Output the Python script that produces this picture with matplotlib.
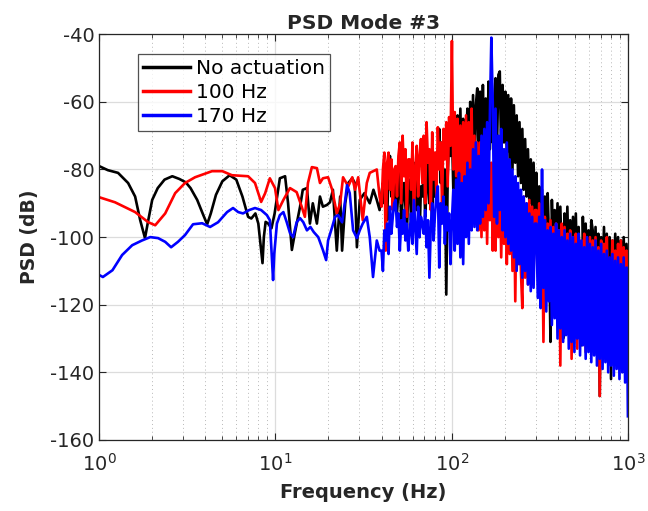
import numpy as np
import matplotlib
matplotlib.use("Agg")
import matplotlib.pyplot as plt
from matplotlib.ticker import LogLocator, NullFormatter

plt.rcParams["axes.unicode_minus"] = False

# --- data (frequency in Hz, PSD in dB) ---
# smooth low-frequency part, explicit points
black_f_low = [1.0, 1.12, 1.28, 1.46, 1.6, 1.71, 1.82, 1.9, 2.0, 2.15, 2.35, 2.6, 2.85, 3.1, 3.3,
               3.6, 3.9, 4.1, 4.3, 4.6, 5.0, 5.5, 6.0, 6.5, 7.0, 7.3, 7.7, 8.0, 8.3, 8.45, 8.6,
               8.8, 9.1, 9.5, 9.9, 10.2, 10.6, 11.35, 11.8, 12.4, 12.9, 13.8, 14.3, 15.1, 15.7,
               16.3, 17.2, 17.9, 18.6, 19.6, 20.4, 21.2, 22.3, 23.3, 23.9, 24.9, 25.9, 27.3,
               28.2, 29.0, 30.1, 32.0, 34.3, 36.0, 37.6, 39.0]
black_db_low = [-79, -80.2, -81, -84, -88, -95, -100.3, -95, -89, -85.5, -83, -82, -82.8, -83.8, -85.5,
                -89, -93.5, -96.2, -93, -87.5, -83.5, -81.7, -83, -88, -94, -94.5, -93, -96, -104, -107.7, -100,
                -95.5, -96, -97.4, -93, -88.5, -82.6, -82, -90, -103.8, -98.8, -91, -86, -85.5, -96,
                -90, -96, -88, -91, -90.5, -89.7, -86, -104, -88, -104, -90, -84, -82.6,
                -84, -103, -89, -87, -90, -86, -89, -92]

red_f_low = [1.0, 1.23, 1.6, 1.9, 2.08, 2.37, 2.7, 3.07, 3.5, 4.37, 5.0, 5.67, 7.0, 7.66, 8.3,
             8.75, 9.3, 9.95, 10.4, 11.1, 12.1, 13.2, 14.1, 14.7, 15.3, 16.1, 17.2, 17.9, 18.6,
             19.9, 21.0, 22.3, 23.3, 24.2, 25.9, 27.3, 28.3, 29.5, 31.3, 33.0, 34.3, 37.6, 39.0]
red_db_low = [-88.2, -89.7, -92.6, -95.6, -96.5, -93, -87, -84, -82.3, -80.5, -80.5, -81.7, -82, -84, -89.6,
              -87, -82.6, -85.5, -92, -89, -85.5, -86.7, -91, -94, -84, -79.3, -79.6, -84, -82.6,
              -82.3, -86, -93, -90, -82.3, -85, -82.3, -86, -82.3, -95, -84, -81, -80, -88]

blue_f_low = [1.0, 1.05, 1.19, 1.35, 1.54, 1.75, 1.95, 2.16, 2.37, 2.56, 2.8, 3.07, 3.41, 3.84, 4.26,
              4.73, 5.32, 5.75, 6.15, 6.55, 7.1, 7.66, 8.3, 8.95, 9.3, 9.5, 9.7, 9.85, 10.2, 10.6,
              11.1, 11.6, 12.1, 12.6, 13.2, 13.8, 14.4, 15.1, 15.8, 16.5, 17.5, 18.6, 19.4, 19.9,
              21.0, 21.8, 22.7, 23.9, 24.9, 25.5, 26.4, 27.6, 29.0, 30.1, 31.3, 33.0, 34.3, 35.8,
              37.6, 39.0]
blue_db_low = [-111.2, -111.8, -109.8, -105.3, -102.4, -101, -100, -100.3, -101.4, -103, -101.4, -99.4, -96.2, -95.9, -97,
               -95.6, -92.6, -91.4, -92.6, -93, -92, -91.4, -92, -93.5, -95, -104, -112.7, -105, -96, -93.5,
               -92.6, -95.6, -98.8, -100, -95.6, -94.4, -95.6, -98, -97, -98.5, -100, -103.8, -106.8, -101,
               -97, -94, -93.5, -95.6, -89, -84.6, -87, -98, -100.3, -98, -96, -94, -100, -111.8,
               -101, -104]

# noisy part, 40 Hz .. 1000 Hz, one value per log-spaced bin
black_db_high = [
    -87, -84, -90, -82, -95, -80, -76, -88, -83, -92,
    -81, -93, -86, -79, -97, -88, -84, -91, -99, -86,
    -83, -95, -80, -89, -78, -92, -84, -100, -85, -88,
    -80, -94, -86, -77, -90, -83, -97, -79, -88, -75,
    -78, -68, -84, -72, -90, -80, -117, -82, -70, -76,
    -68, -86, -66, -88, -64, -84, -62, -83, -65, -80,
    -72, -62, -84, -60, -80, -58, -82, -61, -56, -78,
    -57, -80, -55, -76, -59, -77, -54, -74, -56, -72,
    -60, -53, -74, -52, -51, -76, -55, -72, -57, -75,
    -58, -77, -59, -80, -61, -78, -64, -82, -66, -84,
    -68, -86, -71, -88, -74, -90, -77, -92, -78, -94,
    -81, -98, -85, -100, -86, -102, -88, -99, -87, -101,
    -131, -89, -104, -92, -106, -90, -105, -91, -107, -130,
    -93, -108, -91, -110, -95, -109, -94, -111, -93, -112,
    -97, -110, -132, -94, -112, -96, -111, -98, -113, -95,
    -98, -114, -97, -115, -99, -147, -100, -113, -97, -115,
    -99, -116, -100, -142, -101, -114, -99, -116, -100, -115,
    -101, -116, -100, -114, -102, -113]

red_db_high = [
    -91, -80, -75, -104, -78, -75, -86, -77, -92, -80,
    -79, -88, -76, -72, -90, -70, -82, -74, -94, -77,
    -77, -86, -72, -95, -80, -73, -88, -76, -71, -84,
    -70, -90, -66, -78, -74, -92, -69, -83, -75, -88,
    -67.5, -80, -72, -91, -68, -77, -66, -85, -64.5, -73,
    -42, -80, -63, -82, -65, -86, -67, -88, -66, -90,
    -64, -92, -66, -88, -62, -94, -70, -96, -72, -98,
    -72, -100, -74, -98, -79, -102, -76, -95, -78, -104,
    -82, -104, -78, -100, -80, -106, -83, -102, -81, -108,
    -86, -105, -83, -110, -84, -119, -85, -108, -87, -110,
    -121, -88, -112, -90, -114, -89, -112, -91, -110, -92,
    -92, -110, -90, -114, -93, -131, -94, -112, -96, -115,
    -95, -113, -97, -118, -96, -112, -98, -138, -96, -114,
    -97, -115, -99, -112, -98, -136, -100, -114, -99, -133,
    -100, -116, -101, -118, -99, -134, -102, -117, -100, -115,
    -101, -116, -100, -118, -103, -147, -101, -115, -102, -134,
    -100, -117, -137, -116, -101, -114, -104, -118, -102, -115,
    -101, -116, -103, -114, -104, -122]

blue_db_high = [
    -104, -110, -98, -101, -96, -105, -91, -99, -94, -90,
    -89, -97, -93, -104, -95, -99, -92, -101, -96, -104,
    -98.8, -93, -102, -89, -97, -105, -91, -100, -94, -96,
    -99, -92, -103, -95, -112, -97, -90, -101, -93, -88,
    -85, -109, -90, -96, -88, -102, -91, -98, -93, -108,
    -95, -86, -104, -83, -102, -81, -106, -84, -108, -82,
    -100, -78, -102, -80, -98, -74, -97, -72, -98, -76,
    -96, -70, -94, -68, -92, -66, -90, -63, -41, -60,
    -94, -62, -96, -70, -92, -68, -98, -74, -100, -72,
    -102, -77, -104, -80, -106, -82, -110, -84, -108, -86,
    -112, -88, -110, -90, -114, -93, -116, -94, -115, -96,
    -96, -118, -94, -121, -80, -115, -95, -122, -98, -119,
    -97, -126, -99, -124, -96, -130, -98, -127, -100, -131,
    -98, -129, -101, -133, -99, -131, -100, -134, -102, -130,
    -99, -135, -101, -132, -103, -136, -100, -134, -102, -137,
    -103, -135, -101, -138, -104, -136, -102, -139, -105, -137,
    -104, -140, -106, -138, -105, -141, -107, -139, -106, -142,
    -108, -140, -106, -143, -109, -153]

labels = ["No actuation", "100 Hz", "170 Hz"]
colors = ["k", "#ff0000", "#0000ff"]

# log-spaced bins for the noisy part
f_high = np.geomspace(40, 1000, len(black_db_high))

series = [
    (black_f_low, black_db_low, black_db_high),
    (red_f_low, red_db_low, red_db_high),
    (blue_f_low, blue_db_low, blue_db_high),
]

fig = plt.figure(figsize=(6.48, 5.11), dpi=100)
ax = fig.add_axes([0.153, 0.139, 0.816, 0.794])

for (f_low, db_low, db_high), lab, col in zip(series, labels, colors):
    f = np.concatenate([f_low, f_high])
    db = np.concatenate([db_low, db_high])
    ax.semilogx(f, db, color=col, lw=1.9, label=lab)

ax.set_xlim(1, 1000)
ax.set_ylim(-160, -40)
ax.set_yticks(np.arange(-160, -39, 20))
ax.xaxis.set_minor_locator(LogLocator(base=10, subs=np.arange(2, 10), numticks=20))
ax.xaxis.set_minor_formatter(NullFormatter())

ax.grid(True, which="major", color="#dcdcdc", lw=0.9, ls="-")
ax.grid(True, which="minor", axis="x", color="#b8b8b8", lw=0.7, ls=(0, (1, 3)))
ax.set_axisbelow(True)

ax.tick_params(which="both", direction="in", top=True, right=True,
               colors="#262626", labelsize=14)
ax.tick_params(which="major", length=5)
ax.tick_params(which="minor", length=3)
ax.tick_params(axis="x", which="major", pad=9)
for s in ax.spines.values():
    s.set_color("#262626")
    s.set_linewidth(0.9)

ax.set_title("PSD Mode #3", fontsize=14.5, fontweight="bold", color="#262626", pad=4)
ax.set_xlabel("Frequency (Hz)", fontsize=14, fontweight="bold", color="#262626", labelpad=6)
ax.set_ylabel("PSD (dB)", fontsize=13.5, fontweight="bold", color="#262626", labelpad=8)

leg = ax.legend(loc="upper left", bbox_to_anchor=(0.074, 0.951), fontsize=14.5,
                frameon=True, fancybox=False, handlelength=2.3, handletextpad=0.3,
                labelspacing=0.25, borderpad=0.25, borderaxespad=0)
leg.get_frame().set_edgecolor("#262626")
leg.get_frame().set_linewidth(0.9)
for line in leg.get_lines():
    line.set_linewidth(2.5)

fig.savefig("out.png", dpi=100)
